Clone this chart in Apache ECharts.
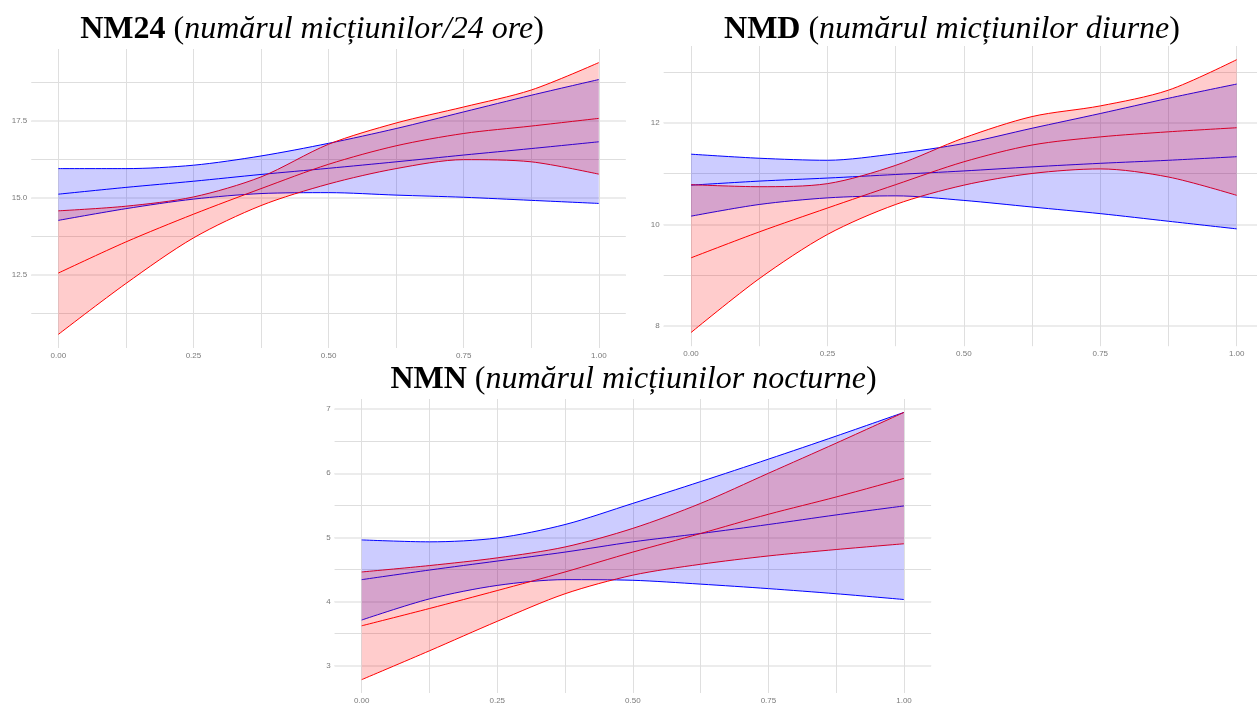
<!DOCTYPE html>
<html><head><meta charset="utf-8">
<script src="https://cdn.jsdelivr.net/npm/echarts@6/dist/echarts.min.js"></script>
<style>html,body{margin:0;padding:0;background:#fff}#c{width:1257px;height:704px}</style>
</head><body><div id="c"></div>
<script>
// ---- data ----
const xs = [0, 0.125, 0.25, 0.375, 0.5, 0.625, 0.75, 0.875, 1];

const nm24BlueUpper = [15.95, 15.95, 16.06, 16.36, 16.77, 17.25, 17.79, 18.33, 18.84];
const nm24BlueMean  = [15.12, 15.34, 15.54, 15.76, 15.96, 16.17, 16.39, 16.60, 16.82];
const nm24BlueLower = [14.27, 14.65, 14.96, 15.14, 15.17, 15.09, 15.02, 14.92, 14.82];
const nm24RedUpper  = [14.58, 14.73, 15.03, 15.68, 16.74, 17.43, 17.95, 18.50, 19.39];
const nm24RedMean   = [12.56, 13.57, 14.47, 15.30, 16.09, 16.69, 17.09, 17.33, 17.58];
const nm24RedLower  = [10.57, 12.22, 13.70, 14.75, 15.45, 15.95, 16.24, 16.17, 15.77];

const nmdBlueUpper = [11.38, 11.30, 11.26, 11.39, 11.59, 11.89, 12.18, 12.48, 12.76];
const nmdBlueMean  = [10.77, 10.85, 10.91, 10.98, 11.05, 11.13, 11.20, 11.26, 11.33];
const nmdBlueLower = [10.16, 10.39, 10.52, 10.56, 10.47, 10.34, 10.21, 10.06, 9.91];
const nmdRedUpper  = [10.78, 10.74, 10.80, 11.16, 11.70, 12.12, 12.33, 12.64, 13.24];
const nmdRedMean   = [9.34, 9.85, 10.32, 10.78, 11.23, 11.56, 11.72, 11.82, 11.90];
const nmdRedLower  = [7.87, 8.93, 9.80, 10.39, 10.77, 11.00, 11.09, 10.93, 10.57];

const nmnBlueUpper = [4.96, 4.93, 4.99, 5.20, 5.53, 5.87, 6.22, 6.58, 6.95];
const nmnBlueMean  = [4.34, 4.49, 4.63, 4.77, 4.93, 5.06, 5.20, 5.35, 5.49];
const nmnBlueLower = [3.71, 4.04, 4.25, 4.34, 4.33, 4.27, 4.20, 4.12, 4.03];
const nmnRedUpper  = [4.46, 4.56, 4.68, 4.85, 5.14, 5.53, 6.00, 6.47, 6.95];
const nmnRedMean   = [3.62, 3.89, 4.17, 4.46, 4.77, 5.06, 5.36, 5.63, 5.92];
const nmnRedLower  = [2.78, 3.23, 3.69, 4.12, 4.41, 4.58, 4.71, 4.81, 4.90];

const titleCodes = ['NM24', 'NMD', 'NMN'];
const titleNames = ['numărul micțiunilor/24 ore', 'numărul micțiunilor diurne', 'numărul micțiunilor nocturne'];
const xTickLabels = xs.map(v => v.toFixed(2));
const yMajorSteps = [2.5, 2, 1];
const yMinorSteps = [1.25, 1, 0.5];
const yTickDecimals = [1, 0, 0];

// ---- layout ----
const panels = [
  {blue: [nm24BlueUpper, nm24BlueMean, nm24BlueLower], red: [nm24RedUpper, nm24RedMean, nm24RedLower],
   x0: 58.3, x1: 598.8, top: 49, bottom: 348, titleX: 307, titleY: 9},
  {blue: [nmdBlueUpper, nmdBlueMean, nmdBlueLower], red: [nmdRedUpper, nmdRedMean, nmdRedLower],
   x0: 691, x1: 1236.7, top: 46, bottom: 346.2, titleX: 947, titleY: 9},
  {blue: [nmnBlueUpper, nmnBlueMean, nmnBlueLower], red: [nmnRedUpper, nmnRedMean, nmnRedLower],
   x0: 361.7, x1: 904, top: 399, bottom: 693, titleX: 628.5, titleY: 359}
];

const BLUE = '#0000ff', RED = '#ff0000';
const BLUE_FILL = 'rgba(0,0,255,0.2)', RED_FILL = 'rgba(255,0,0,0.2)';
const LABEL_COLOR = '#7a7a7a';
const SMOOTH = 0.3;

const grid = [], xAxis = [], yAxis = [], series = [], title = [];

panels.forEach((p, i) => {
  const all = p.blue.concat(p.red).flat();
  const lo = Math.min(...all), hi = Math.max(...all);
  const ymin = lo - 0.05 * (hi - lo), ymax = hi + 0.05 * (hi - lo);
  const ppu = (p.bottom - p.top) / (ymax - ymin);
  const W = p.x1 - p.x0;
  const extL = p.x0 - 0.05 * W, extW = 1.1 * W;

  const mkBg = (step) => {
    const nmin = Math.floor(ymin / step + 1e-9) * step;
    const nmax = Math.ceil(ymax / step - 1e-9) * step;
    return {nmin, nmax, top: p.top - (nmax - ymax) * ppu, height: (nmax - nmin) * ppu};
  };
  const mi = mkBg(yMinorSteps[i]);
  const ma = mkBg(yMajorSteps[i]);
  const base = grid.length;

  // minor horizontal lines
  grid.push({left: extL, width: extW, top: mi.top, height: mi.height, outerBoundsMode: 'none', containLabel: false, z: 0});
  xAxis.push({gridIndex: base, type: 'value', min: 0, max: 1, show: false});
  yAxis.push({gridIndex: base, type: 'value', min: mi.nmin, max: mi.nmax, interval: yMinorSteps[i], z: 0,
    axisLine: {show: false}, axisTick: {show: false}, axisLabel: {show: false},
    splitLine: {show: true, showMinLine: false, showMaxLine: false, lineStyle: {color: '#dedede', width: 1}}});

  // major horizontal lines + labels
  grid.push({left: extL, width: extW, top: ma.top, height: ma.height, outerBoundsMode: 'none', containLabel: false, z: 1});
  xAxis.push({gridIndex: base + 1, type: 'value', min: 0, max: 1, show: false});
  yAxis.push({gridIndex: base + 1, type: 'value', min: ma.nmin, max: ma.nmax, interval: yMajorSteps[i], z: 1,
    axisLine: {show: false}, axisTick: {show: false},
    axisLabel: {show: true, showMinLabel: false, showMaxLabel: false, fontSize: 8, color: LABEL_COLOR,
      fontFamily: 'Liberation Sans', margin: 4, formatter: v => v.toFixed(yTickDecimals[i])},
    splitLine: {show: true, showMinLine: false, showMaxLine: false, lineStyle: {color: '#ececec', width: 2}}});

  // data grid with vertical lines
  grid.push({left: p.x0, width: W, top: p.top, height: p.bottom - p.top, outerBoundsMode: 'none', containLabel: false, z: 2});
  xAxis.push({gridIndex: base + 2, type: 'category', data: xTickLabels, boundaryGap: false, z: 2,
    axisLine: {show: false}, axisTick: {show: false},
    axisLabel: {interval: 1, fontSize: 8, color: LABEL_COLOR, fontFamily: 'Liberation Sans', margin: 4},
    splitLine: {show: true, interval: 0, lineStyle: {color: '#dfdfdf', width: 1}}});
  yAxis.push({gridIndex: base + 2, type: 'value', min: ymin, max: ymax, show: false, splitLine: {show: false}});

  const groups = [[p.blue, BLUE, BLUE_FILL, 'b'], [p.red, RED, RED_FILL, 'r']];
  // lines first (beneath the translucent ribbons)
  groups.forEach(([arrs, col]) => {
    arrs.forEach(arr => series.push({type: 'line', xAxisIndex: base + 2, yAxisIndex: base + 2,
      data: arr, showSymbol: false, smooth: SMOOTH, silent: true, z: 3,
      lineStyle: {color: col, width: 1}}));
  });
  // ribbons
  groups.forEach(([arrs, col, fill, tag]) => {
    const up = arrs[0], low = arrs[2];
    const st = 'band' + i + tag;
    series.push({type: 'line', xAxisIndex: base + 2, yAxisIndex: base + 2, stack: st,
      data: low, showSymbol: false, smooth: SMOOTH, silent: true, z: 4,
      lineStyle: {opacity: 0}});
    series.push({type: 'line', xAxisIndex: base + 2, yAxisIndex: base + 2, stack: st,
      data: up.map((v, k) => v - low[k]), showSymbol: false, smooth: SMOOTH, silent: true, z: 4,
      lineStyle: {opacity: 0}, areaStyle: {color: fill, opacity: 1}});
  });

  title.push({
    text: '{b|' + titleCodes[i] + '} (' + '{i|' + titleNames[i] + '})',
    left: p.titleX, top: p.titleY, textAlign: 'center',
    textStyle: {fontFamily: 'Liberation Serif', fontSize: 32, fontWeight: 'normal', color: '#000',
      rich: {
        b: {fontFamily: 'Liberation Serif', fontSize: 32, fontWeight: 'bold', color: '#000'},
        i: {fontFamily: 'Liberation Serif', fontSize: 32, fontStyle: 'italic', color: '#000'}
      }}
  });
});

const chart = echarts.init(document.getElementById('c'), null, {renderer: 'canvas'});
chart.setOption({animation: false, backgroundColor: '#fff', title, grid, xAxis, yAxis, series});
</script></body></html>
